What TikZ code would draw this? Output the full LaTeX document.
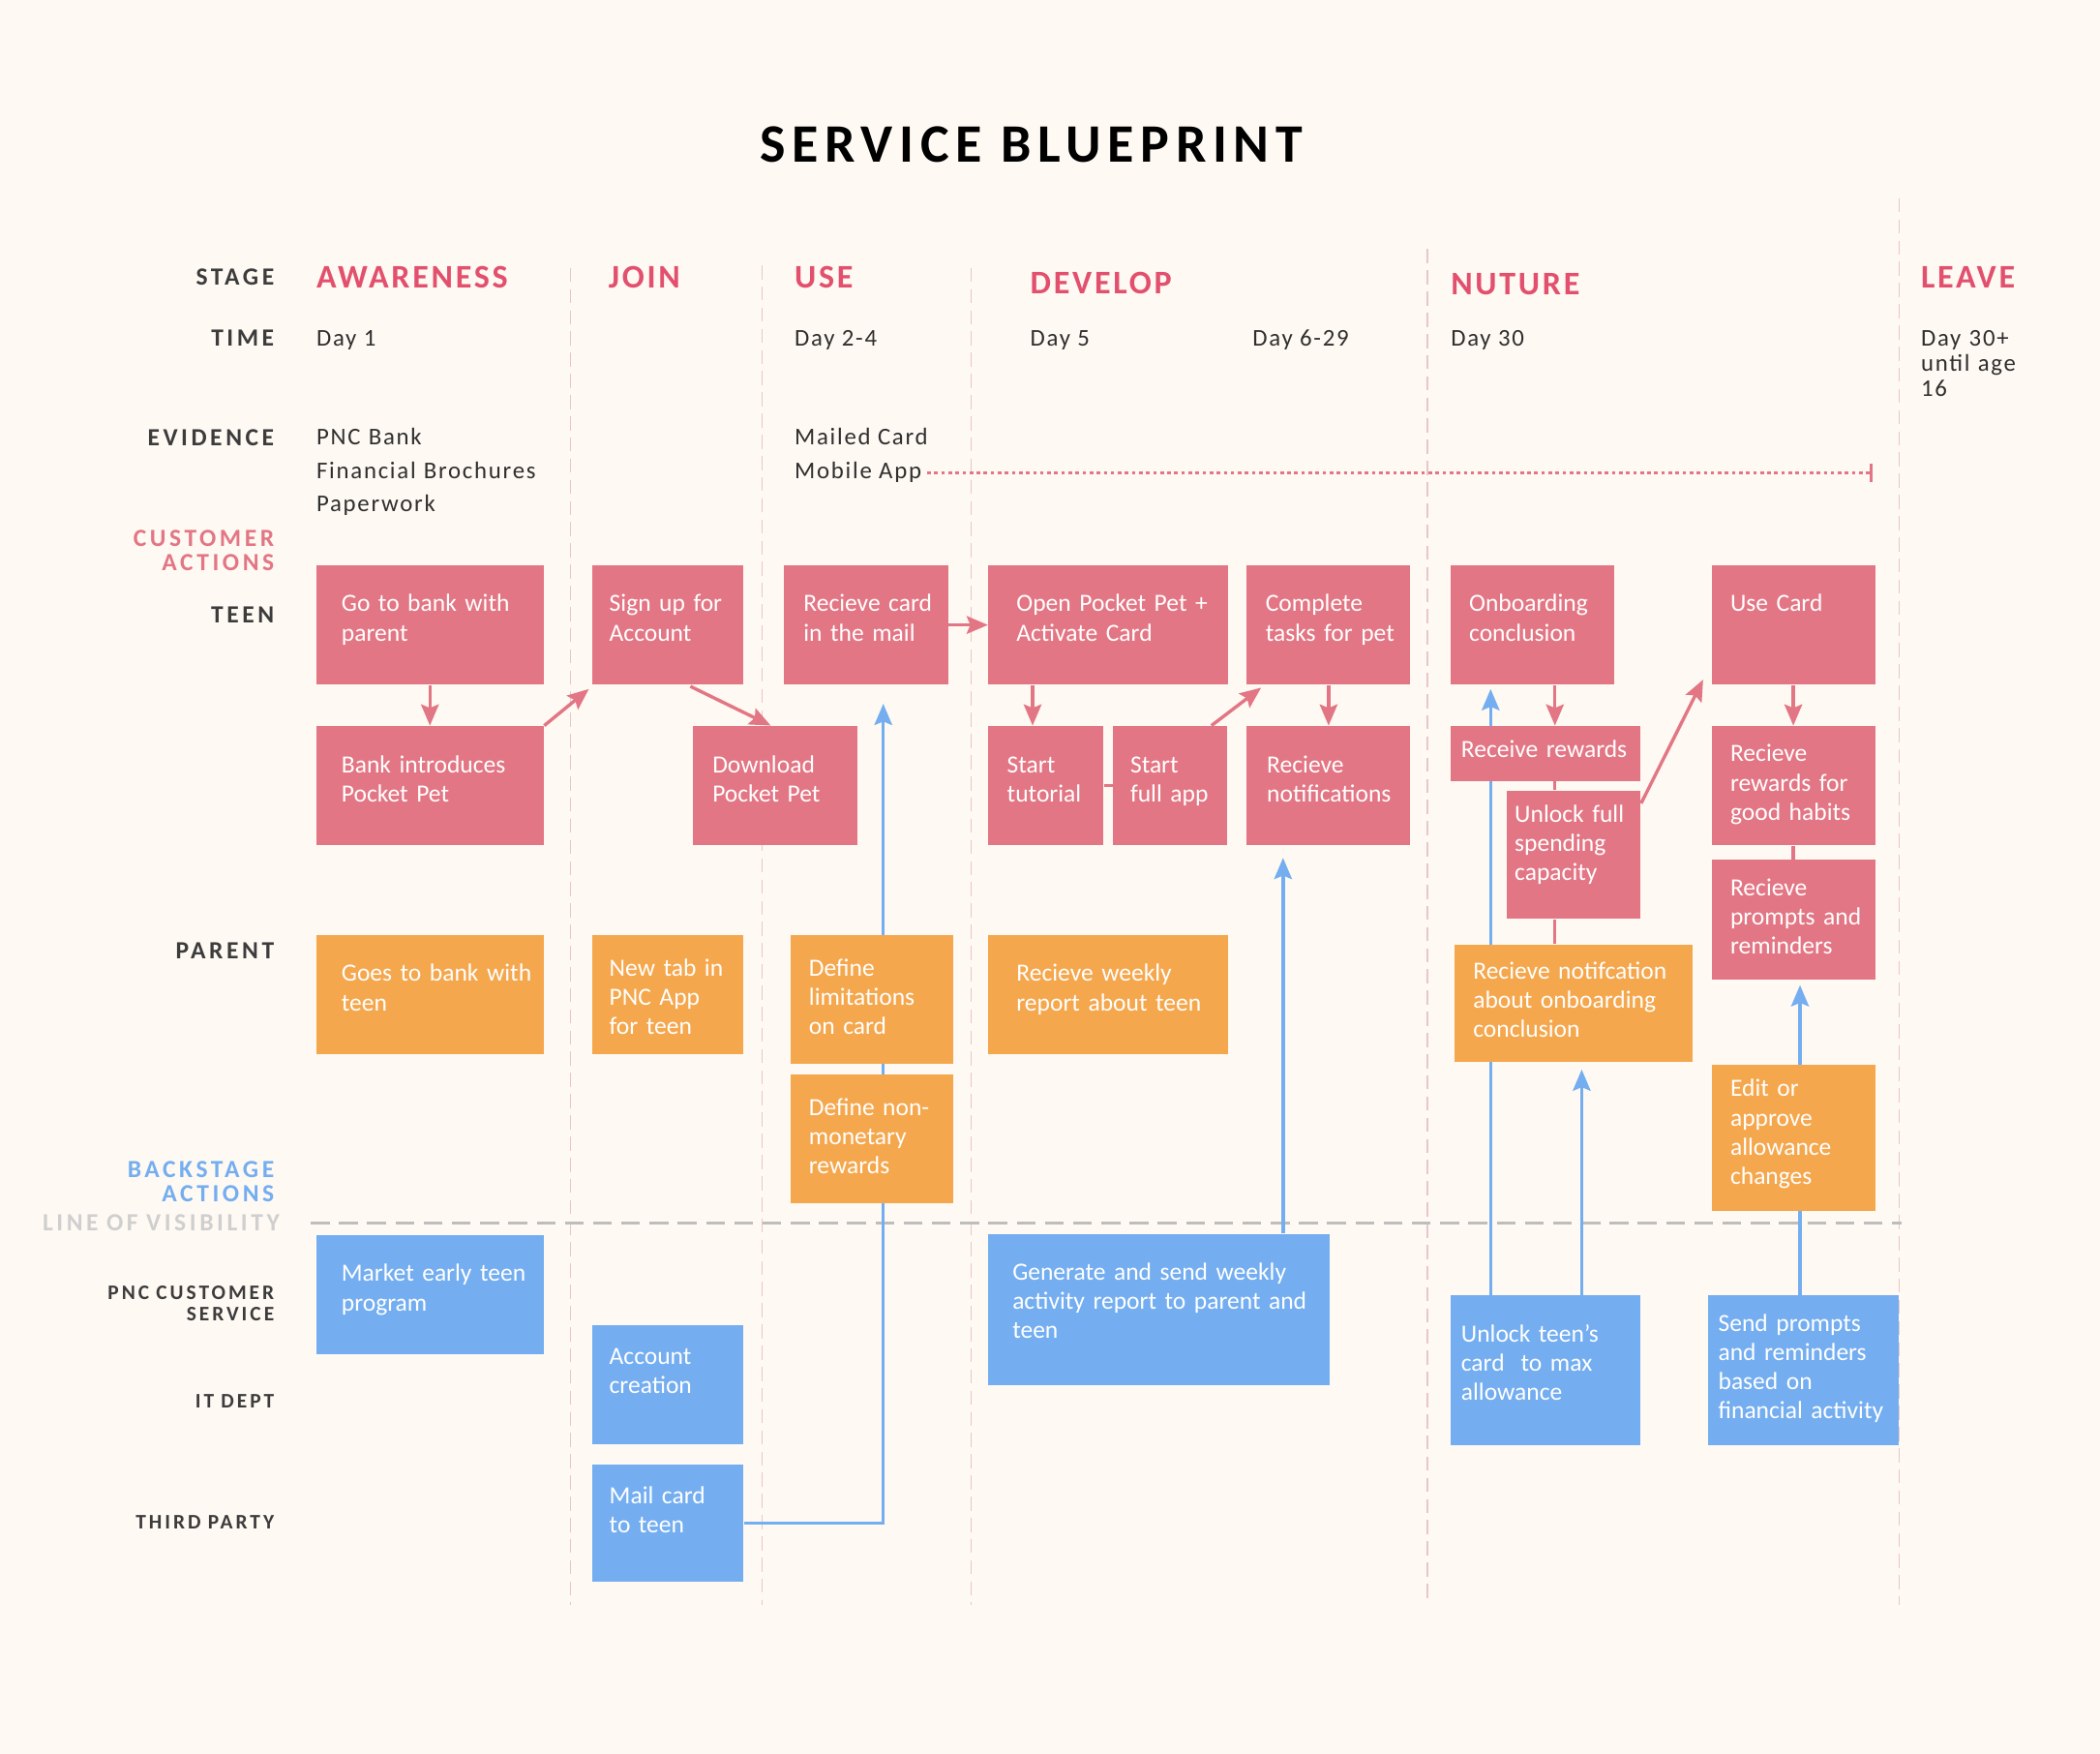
\documentclass[tikz,border=0pt]{standalone}
\usepackage{fontspec}
\setmainfont{Carlito}
\newfontfamily\labelfont[LetterSpace=14]{Carlito}
\newfontfamily\stagefont[LetterSpace=8]{Carlito}
\newfontfamily\titlefont[LetterSpace=12]{Carlito}
\newfontfamily\evfont[LetterSpace=7]{Carlito}
\usetikzlibrary{arrows.meta, fit}

\definecolor{paper}{HTML}{FEF9F2}
\definecolor{teenpink}{HTML}{E37684}
\definecolor{stagepink}{HTML}{E2506E}
\definecolor{parentorange}{HTML}{F5A74D}
\definecolor{backblue}{HTML}{74AEF0}
\definecolor{labelgray}{HTML}{3C3C3C}
\definecolor{textgray}{HTML}{2F2F2F}
\definecolor{lanepink}{HTML}{E8C6CA}
\definecolor{visgray}{HTML}{BDBDBD}
\definecolor{vistext}{HTML}{CFCFCF}

\pgfdeclarelayer{back}
\pgfdeclarelayer{wires}
\pgfsetlayers{back,wires,main}

\begin{document}
\begin{tikzpicture}[
		x=0.02cm, y=-0.02cm,
		row label/.style={anchor=base east, text width=4.5cm, align=right, inner sep=0pt, text=labelgray, font=\labelfont\bfseries\fontsize{10.5}{10.2}\selectfont},
		small label/.style={row label, font=\labelfont\bfseries\fontsize{8.8}{9.1}\selectfont},
		stage/.style={anchor=base west, inner sep=0pt, text=stagepink, font=\stagefont\bfseries\fontsize{14}{16}\selectfont},
		evidence/.style={anchor=base west, inner sep=0pt, text=textgray, font=\evfont\fontsize{10.2}{14.2}\selectfont},
		evidence block/.style={evidence, text width=4cm, align=left},
		teen/.style={fill=teenpink},
		parent/.style={fill=parentorange},
		backstage/.style={fill=backblue},
		card text/.style={anchor=base west, align=left, inner sep=0pt, text=white, font=\fontsize{10.5}{12.4}\selectfont},
		lane/.style={lanepink, line width=0.7pt, dash pattern=on 6pt off 3pt},
		visline/.style={visgray, line width=1.1pt, dash pattern=on 8pt off 4pt},
		dotline/.style={teenpink, line width=0.9pt, dash pattern=on 1.5pt off 1.5pt},
		flow/.style={teenpink, line width=1.4pt},
		pink arrow/.style={flow, -{Stealth[length=9pt, width=7.5pt, inset=1.5pt]}},
		blue arrow/.style={backblue, line width=1.4pt, -{Stealth[length=9pt, width=7.5pt, inset=1.5pt]}}
		]
		
		\useasboundingbox (0,0) rectangle (1568,1309);
		
		% ---------------------------------------------------------
		% Paper, stage lanes and the line of visibility
		% ---------------------------------------------------------
		\begin{pgfonlayer}{back}
			\fill[paper] (0,0) rectangle (1568,1309);
			\foreach \x/\ya in {426/200, 569/198, 725/200, 1066/186, 1418/148} {
				\draw[lane] (\x,\ya) -- (\x,1198);
			}
			\draw[visline] (232,913) -- (1420,913);
		\end{pgfonlayer}
		
		\node[font=\titlefont\bfseries\fontsize{23}{26}\selectfont, text=black] (title) at (770,108) {SERVICE BLUEPRINT};
		
		% ---------------------------------------------------------
		% Row labels
		% ---------------------------------------------------------
		\foreach \y/\t in {213/STAGE, 258/TIME, 333/EVIDENCE, 465/TEEN, 716/PARENT} {
			\node[row label] (lbl-\t) at (205,\y) {\t};
		}
		\node[row label, text=teenpink] (lbl-cust) at (205,408) {CUSTOMER\\ACTIONS};
		\node[row label, text=backblue] (lbl-back) at (205,879) {BACKSTAGE\\ACTIONS};
		\node[row label, text=vistext] (lbl-vis) at (209,919) {LINE OF VISIBILITY};
		\node[small label] (lbl-pnc) at (205,970) {PNC CUSTOMER\\SERVICE};
		\node[small label] (lbl-it) at (205,1051) {IT DEPT};
		\node[small label] (lbl-third) at (205,1141) {THIRD PARTY};
		
		% ---------------------------------------------------------
		% Stages, time and evidence
		% ---------------------------------------------------------
		\foreach \n/\x/\y/\t in {aware/236/215/AWARENESS, join/454/215/JOIN, use/593/215/USE,
			develop/769/219/DEVELOP, nuture/1083/220/NUTURE, leave/1434/215/LEAVE} {
			\node[stage] (stage-\n) at (\x,\y) {\t};
		}
		\foreach \n/\x/\t in {aware/236/Day 1, use/593/Day 2-4, develop/769/Day 5,
			tasks/935/Day 6-29, nuture/1083/Day 30} {
			\node[evidence] (time-\n) at (\x,258) {\t};
		}
		\node[evidence block, text width=2.5cm, font=\evfont\fontsize{10.2}{10.8}\selectfont] (time-leave) at (1434,258) {Day 30+\\until age\\16};
		
		\node[evidence block] (ev-bank) at (236,332) {PNC Bank\\Financial Brochures\\Paperwork};
		\node[evidence] (mailed) at (593,332) {Mailed Card};
		\node[evidence] (mobile) at (593,357) {Mobile App};
		\coordinate (app-end) at (1397,353);
		\draw[dotline] ([shift={(4,0)}]mobile.east |- app-end) -- (app-end);
		\draw[teenpink, line width=1.4pt] ([shift={(0,-7)}]app-end) -- ([shift={(0,7)}]app-end);
		
		% ---------------------------------------------------------
		% Action cards: name/kind/corners/text offset/text
		% ---------------------------------------------------------
		\foreach \name/\kind/\xa/\ya/\xb/\yb/\px/\py/\txt in {
			go/teen/236/422/406/511/19/35/{Go to bank with\\parent},
			signup/teen/442/422/555/511/13/35/{Sign up for\\Account},
			recvcard/teen/585/422/708/511/15/35/{Recieve card\\in the mail},
			open/teen/738/422/917/511/21/35/{Open Pocket Pet +\\Activate Card},
			complete/teen/931/422/1053/511/14/35/{Complete\\tasks for pet},
			onboard/teen/1083/422/1205/511/14/35/{Onboarding\\conclusion},
			usecard/teen/1278/422/1400/511/14/35/{Use Card},
			bankintro/teen/236/542/406/631/19/35/{Bank introduces\\Pocket Pet},
			download/teen/517/542/640/631/15/35/{Download\\Pocket Pet},
			tutorial/teen/738/542/824/631/14/35/{Start\\tutorial},
			fullapp/teen/831/542/916/631/13/35/{Start\\full app},
			notif/teen/931/542/1053/631/15/35/{Recieve\\notifications},
			rewards/teen/1083/542/1225/583/8/24/{Receive rewards},
			unlock/teen/1125/590/1225/686/6/24/{Unlock full\\spending\\capacity},
			goodhabits/teen/1278/542/1400/631/14/27/{Recieve\\rewards for\\good habits},
			prompts/teen/1278/642/1400/731/14/27/{Recieve\\prompts and\\reminders},
			goes/parent/236/698/406/787/19/35/{Goes to bank with\\teen},
			newtab/parent/442/698/555/787/13/31/{New tab in\\PNC App\\for teen},
			limits/parent/590/698/712/794/14/31/{Define\\limitations\\on card},
			nonmon/parent/590/802/712/898/14/31/{Define non-\\monetary\\rewards},
			weekly/parent/738/698/917/787/21/35/{Recieve weekly\\report about teen},
			notifonb/parent/1086/705/1264/793/14/26/{Recieve notifcation\\about onboarding\\conclusion},
			edit/parent/1278/795/1400/904/14/24/{Edit or\\approve\\allowance\\changes},
			market/backstage/236/922/406/1011/19/35/{Market early teen\\program},
			account/backstage/442/989/555/1078/13/30/{Account\\creation},
			mail/backstage/442/1093/555/1181/13/30/{Mail card\\to teen},
			generate/backstage/738/921/993/1034/18/35/{Generate and send weekly\\activity report to parent and\\teen},
			unlockmax/backstage/1083/967/1225/1079/8/35/{Unlock teen’s\\card~ to max\\allowance},
			sendprompts/backstage/1275/967/1418/1079/8/27/{Send prompts\\and reminders\\based on\\financial activity}} {
			\node[\kind, inner sep=0pt, fit={(\xa,\ya) (\xb,\yb)}] (\name) {};
			\node[card text, text width={(\xb-\xa-\px)*0.02cm}] (\name-t) at ([shift={(\px,\py)}]\name.north west) {\txt};
		}
		
		% ---------------------------------------------------------
		% Connectors (kept behind the cards)
		% ---------------------------------------------------------
		\coordinate (dl-in) at ([shift={(-3,0)}]download.north);
		\coordinate (tut-in) at ([shift={(-10,0)}]tutorial.north);
		\coordinate (full-out) at ([shift={(31,0)}]fullapp.north);
		\coordinate (task-in) at ([shift={(11,2)}]complete.south west);
		\coordinate (onb-out) at ([shift={(17,0)}]onboard.south);
		\coordinate (unl-out) at ([shift={(0,10)}]unlock.north east);
		\coordinate (card-in) at ([shift={(-6,-4)}]usecard.south west);
		\coordinate (mail-in) at ([shift={(13,14)}]recvcard.south);
		\coordinate (notif-in) at ([shift={(-34,9)}]notif.south);
		\coordinate (onb-in) at ([shift={(-31,3)}]onboard.south);
		\coordinate (nob-in) at ([shift={(6,5)}]notifonb.south);
		\coordinate (prm-in) at ([shift={(5,4)}]prompts.south);
		
		\begin{pgfonlayer}{wires}
			% teen flow
			\draw[pink arrow] (go) -- (bankintro);
			\draw[pink arrow] (bankintro.north east) -- ([shift={(-2,3)}]signup.south west);
			\draw[pink arrow] ([shift={(17,1)}]signup.south) -- (dl-in);
			\draw[pink arrow] (recvcard) -- (open);
			\draw[pink arrow] (open.south -| tut-in) -- (tut-in);
			\draw[flow] (tutorial) -- (fullapp);
			\draw[pink arrow] (full-out) -- (task-in);
			\draw[pink arrow] (complete) -- (notif);
			\draw[pink arrow] (onb-out) -- (rewards.north -| onb-out);
			\draw[flow] (rewards.south -| onb-out) -- (unlock.north -| onb-out);
			\draw[flow] (unlock.south -| onb-out) -- (notifonb.north -| onb-out);
			\draw[pink arrow] (unl-out) -- (card-in);
			\draw[pink arrow] (usecard) -- (goodhabits);
			\draw[flow] (goodhabits) -- (prompts);
			
			% backstage support
			\draw[blue arrow] (mail.east) -| (mail-in);
			\draw[blue arrow] (generate.north -| notif-in) -- (notif-in);
			\draw[blue arrow] (unlockmax.north -| onb-in) -- (onb-in);
			\draw[blue arrow] (unlockmax.north -| nob-in) -- (nob-in);
			\draw[blue arrow] (sendprompts.north -| prm-in) -- (prm-in);
		\end{pgfonlayer}
		
	\end{tikzpicture}
\end{document}
